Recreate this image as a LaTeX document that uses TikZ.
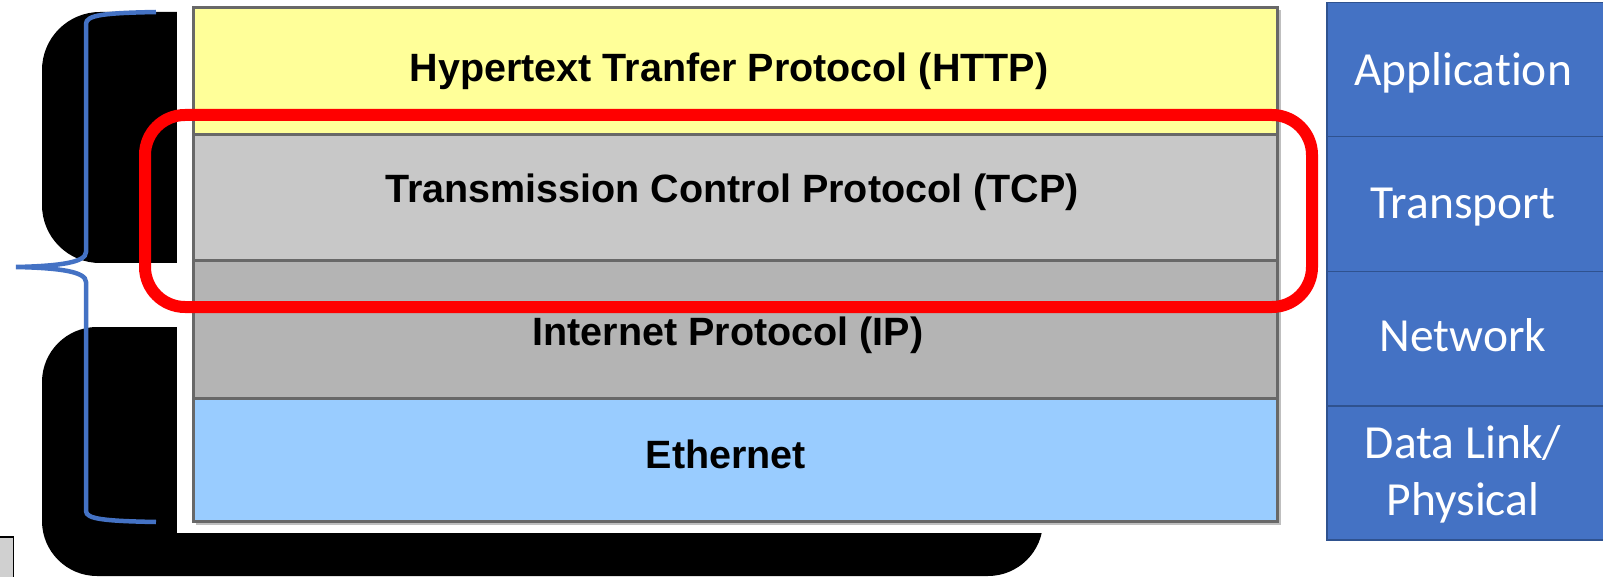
\documentclass[tikz,border=0pt]{standalone}
\usepackage{fontspec}
\setmainfont{Liberation Sans}
\newfontfamily\calibrifont[Ligatures=NoCommon]{Carlito}
\definecolor{httpyellow}{HTML}{FFFF99}
\definecolor{tcpgray}{HTML}{C8C8C8}
\definecolor{ipgray}{HTML}{B4B4B4}
\definecolor{ethblue}{HTML}{99CCFF}
\definecolor{layeredge}{HTML}{686868}
\definecolor{osiblue}{HTML}{4472C4}
\definecolor{osiedge}{HTML}{2F528F}
\definecolor{bracecol}{HTML}{4472C4}
\definecolor{hilite}{HTML}{FF0000}
\definecolor{stubgray}{HTML}{D0D0D0}
\begin{document}
\begin{tikzpicture}[x=1pt,y=-1pt,
  layer/.style={draw=layeredge, line width=3.2pt, minimum width=1084pt,
    inner sep=0pt, anchor=north west},
  layertext/.style={font=\bfseries\fontsize{39.5}{40}\selectfont,
    anchor=base, inner sep=0pt},
  osibox/.style={draw=osiedge, fill=osiblue, line width=1.5pt,
    minimum width=278pt, anchor=north west, inner sep=0pt},
  ositext/.style={font=\calibrifont\fontsize{47.5}{57}\selectfont,
    text=white, anchor=base, inner sep=0pt},
]
\useasboundingbox (0,0) rectangle (1603,577);

% black rounded backing shapes
\fill[black, rounded corners=58pt] (42,12) rectangle (600,263);
\fill[black, rounded corners=55pt] (42,327) rectangle (1043,576);

% white backdrop of the protocol stack
\fill[white] (177,0) rectangle (1292,533);

% small stub box at the lower left
\node[draw=black, fill=stubgray, line width=1.5pt, minimum width=16pt,
  minimum height=50pt, inner sep=0pt, anchor=north east] (stub) at (14,536) {};

% blue curly brace
\draw[bracecol, line width=4.5pt]
  (156,12) .. controls (104,13) and (86,15) .. (86,24)
  -- (86,252) .. controls (86,262) and (62,266) .. (16,267)
  .. controls (62,268) and (86,272) .. (86,282)
  -- (86,511) .. controls (86,519) and (104,521) .. (156,522);

% soft shadow of the stack
\fill[black!25] (196,10) rectangle (1281,525);

% protocol layers
\node[layer, fill=httpyellow, minimum height=127pt] (http) at (192,6) {};
\node[layer, fill=tcpgray, minimum height=126pt] (tcp) at (192,133) {};
\node[layer, fill=ipgray, minimum height=138pt] (ip) at (192,259) {};
\node[layer, fill=ethblue, minimum height=123pt] (eth) at (192,397) {};

\node[layertext] (httpt) at (729,82) {Hypertext Tranfer Protocol (HTTP)};
\node[layertext] (tcpt) at (732,203) {Transmission Control Protocol (TCP)};
\node[layertext] (ipt) at (728,345) {Internet Protocol (IP)};
\node[layertext] (etht) at (726,468) {Ethernet};

% red highlight around the transport layer
\node[draw=hilite, line width=12pt, rounded corners=40pt, minimum width=1167pt,
  minimum height=192pt, inner sep=0pt] (focus) at (728.5,211) {};

% layer names on the right
\node[osibox, minimum height=134pt] (app) at (1326,2) {};
\node[osibox, minimum height=135pt] (trans) at (1326,136) {};
\node[osibox, minimum height=134pt] (net) at (1326,271) {};
\node[osibox, minimum height=134pt] (link) at (1326,405) {};

\node[ositext] (appt) at (1463,86) {Application};
\node[ositext] (transt) at (1463,219) {Transport};
\node[ositext] (nett) at (1463,351) {Network};
\node[ositext] (linkt1) at (1463,458) {Data Link/};
\node[ositext] (linkt2) at (1463,515) {Physical};
\end{tikzpicture}
\end{document}
